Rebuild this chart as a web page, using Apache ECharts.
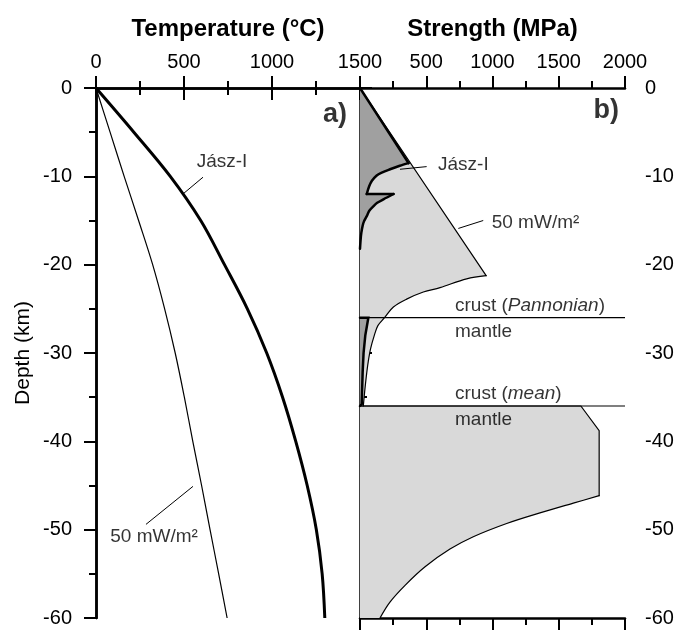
<!DOCTYPE html>
<html>
<head>
<meta charset="utf-8">
<script src="https://cdn.jsdelivr.net/npm/echarts@6/dist/echarts.min.js"></script>
<style>
	html, body { margin: 0; background: #fff; }
	#main { width: 678px; height: 630px; }
</style>
</head>
<body>
<div id="main"></div>
<script>
	// depth (km) for the geotherms
	var depths = [0, -5, -10, -15, -20, -25, -30, -35, -40, -45, -50, -55, -60];
	// temperature (°C)
	var tempJasz = [0, 215, 422, 595, 730, 860, 970, 1060, 1135, 1200, 1252, 1285, 1300];
	var temp50 = [0, 80, 160, 242, 322, 390, 450, 502, 550, 600, 648, 697, 745];

	// strength envelopes [MPa, depth km]
	var brittle50 = [[0, 0], [952, -21.25]];
	var creep50 = [[952, -21.25], [805, -21.6], [604, -22.6], [478, -23.1], [352, -23.9], [252, -24.8],
		[185, -26.0], [135, -26.9], [108, -28.0], [80, -29.5], [62, -31], [48, -32.6], [35, -34.4], [25, -36]];
	var mantleTop = [[0, -36], [1667, -36], [1805, -38.8], [1805, -46.15]];
	var mantleCreep = [[1805, -46.15], [1610, -47.0], [1358, -48.1], [1107, -49.3], [855, -50.8], [679, -52.2],
		[491, -54.2], [340, -56.3], [226, -58.2], [151, -60]];
	var jaszBrittle = [[0, 0], [366, -8.5]];
	var jaszUpper = [[366, -8.5], [300, -8.8], [227, -9.2], [160, -9.6], [126, -9.9], [90, -10.5],
		[70, -11.1], [51, -12.0]];
	var jaszNotch = [[51, -12.0], [253, -12.0]];
	var jaszLower = [[253, -12.0], [177, -12.6], [130, -13.0], [101, -13.4], [70, -13.9], [51, -14.5],
		[30, -15.1], [20, -15.6], [10, -16.4], [5, -17.1], [0, -18.2]];
	var jaszMantle = [[0, -26], [63, -26], [40, -28], [27, -30], [20, -32.2], [13, -35.8], [0, -36]];

	var mohoPannonian = -26;
	var mohoMean = -36;

	var strengthTicks = [500, 1000, 1500, 2000];

	var myChart = echarts.init(document.getElementById('main'));
	var font = "'Liberation Sans', Arial, sans-serif";

	function pairs(xs) {
		return xs.map(function (v, i) { return [v, depths[i]]; });
	}

	// smooth curve through the points (geotherms)
	function curve(points, w) {
		return {
			type: 'custom', xAxisIndex: 0, yAxisIndex: 0, silent: true,
			data: [[0, 0]],
			renderItem: function (params, api) {
				return {
					type: 'polyline',
					shape: { points: points.map(function (q) { return api.coord(q); }), smooth: 0.35 },
					style: { fill: null, stroke: '#000', lineWidth: w }
				};
			}
		};
	}

	// filled area: outline parts are joined into the polygon, each part may be smoothed
	function area(parts, fill, lw, smooth) {
		return {
			type: 'custom', xAxisIndex: 1, yAxisIndex: 2, silent: true,
			data: [[0, 0]],
			renderItem: function (params, api) {
				var all = [];
				var kids = [];
				parts.forEach(function (p, k) {
					var pts = p.map(function (q) { return api.coord(q); });
					all = all.concat(pts);
					if (pts.length > 1) {
						kids.push({
							type: 'polyline', z2: 2,
							shape: { points: pts, smooth: smooth[k] || 0 },
							style: { fill: null, stroke: '#000', lineWidth: lw, lineJoin: 'miter', lineCap: 'round' }
						});
					}
				});
				kids.unshift({
					type: 'polygon', z2: 1,
					shape: { points: all, smooth: 0 },
					style: { fill: fill, stroke: null }
				});
				return { type: 'group', children: kids };
			}
		};
	}

	function line(data, w, xi, yi) {
		return {
			type: 'line', xAxisIndex: xi, yAxisIndex: yi, data: data, symbol: 'none', silent: true,
			lineStyle: { color: '#000', width: w }
		};
	}

	// annotations: text + anchor in data units
	function texts(items, xi, yi) {
		return {
			type: 'scatter', xAxisIndex: xi, yAxisIndex: yi, symbolSize: 0, silent: true,
			data: items.map(function (t) {
				return {
					value: t.at, name: t.text,
					label: {
						show: true, position: [0, 0], formatter: t.text,
						align: t.align || 'left', verticalAlign: 'middle',
						fontSize: t.size || 19, fontWeight: t.bold ? 'bold' : 'normal',
						fontFamily: font, color: '#000',
						rich: {
							n: { fontSize: 19, fontFamily: font, color: '#000' },
							i: { fontSize: 19, fontFamily: font, color: '#000', fontStyle: 'italic' }
						}
					}
				};
			})
		};
	}

	var axisLine = { lineStyle: { color: '#000', width: 2.5 } };
	var tick = { length: 12, lineStyle: { color: '#000', width: 2 } };
	var minor = { show: true, splitNumber: 2, length: 7, lineStyle: { color: '#000', width: 2 } };
	var lbl = { fontSize: 20, color: '#000', fontFamily: font, formatter: function (v) { return String(v); } };
	var titleStyle = { fontSize: 24, fontWeight: 'bold', color: '#000', fontFamily: font };

	option = {
		animation: false,
		grid: [
			{ left: 96, top: 88, width: 264, height: 530 },
			{ left: 360, top: 88, width: 265, height: 530 }
		],
		xAxis: [
			{
				gridIndex: 0, type: 'value', position: 'top', min: 0, max: 1500, interval: 500,
				name: 'Temperature (°C)', nameLocation: 'middle', nameGap: 47, nameTextStyle: titleStyle,
				axisLine: axisLine, axisTick: tick, minorTick: minor, splitLine: { show: false },
				axisLabel: Object.assign({}, lbl, { margin: 16 })
			},
			{
				gridIndex: 1, type: 'value', position: 'top', min: 0, max: 2000, interval: 500,
				name: 'Strength (MPa)', nameLocation: 'middle', nameGap: 47, nameTextStyle: titleStyle,
				axisLine: axisLine, axisTick: tick, minorTick: minor, splitLine: { show: false },
				axisLabel: Object.assign({}, lbl, {
					margin: 16,
					formatter: function (v) { return strengthTicks.indexOf(v) >= 0 ? String(v) : ''; }
				})
			},
			{
				gridIndex: 0, type: 'value', position: 'bottom', min: 0, max: 1500, interval: 500,
				axisLine: axisLine, axisTick: tick, minorTick: minor, splitLine: { show: false },
				axisLabel: { show: false }
			},
			{
				gridIndex: 1, type: 'value', position: 'bottom', min: 0, max: 2000, interval: 500,
				axisLine: axisLine, axisTick: tick, minorTick: minor, splitLine: { show: false },
				axisLabel: { show: false }
			}
		],
		yAxis: [
			{
				gridIndex: 0, type: 'value', position: 'left', min: -60, max: 0, interval: 10,
				name: 'Depth (km)', nameLocation: 'middle', nameGap: 62,
				nameTextStyle: { fontSize: 21, color: '#000', fontFamily: font },
				axisLine: axisLine, axisTick: tick, minorTick: minor, splitLine: { show: false },
				axisLabel: Object.assign({}, lbl, { margin: 24 })
			},
			{
				gridIndex: 0, type: 'value', position: 'right', min: -60, max: 0, interval: 10,
				axisLine: axisLine, axisTick: Object.assign({ inside: true }, tick),
				minorTick: minor, splitLine: { show: false }, axisLabel: { show: false }
			},
			{
				gridIndex: 1, type: 'value', position: 'right', min: -60, max: 0, interval: 10,
				axisLine: axisLine, axisTick: tick, minorTick: minor, splitLine: { show: false },
				axisLabel: Object.assign({}, lbl, { margin: 20 })
			}
		],
		series: [
			// a) geotherms
			curve(pairs(tempJasz), 3),
			curve(pairs(temp50), 1.2),
			line([[494, -12.0], [608, -10.1]], 1, 0, 0),
			line([[284, -49.4], [551, -45.1]], 1, 0, 0),
			texts([
				{ text: 'Jász-I', at: [716, -8.4], align: 'center' },
				{ text: '50 mW/m²', at: [330, -50.8], align: 'center' },
				{ text: 'a)', at: [1426, -3.0], align: 'right', size: 27, bold: true }
			], 0, 0),

			// b) strength envelopes
			area([brittle50, creep50, [[0, -36]]], '#d9d9d9', 1.2, [0, 0.35, 0]),
			area([mantleTop, mantleCreep, [[0, -60]]], '#d9d9d9', 1.2, [0, 0.35, 0]),
			area([jaszBrittle, jaszUpper, jaszNotch, jaszLower], '#a0a0a0', 2.5, [0, 0.3, 0, 0.3]),
			area([jaszMantle], '#a0a0a0', 2.5, [0]),
			line([[0, mohoPannonian], [2000, mohoPannonian]], 1.2, 1, 2),
			line([[0, mohoMean], [2000, mohoMean]], 1.2, 1, 2),
			line([[302, -9.2], [503, -8.9]], 1, 1, 2),
			line([[742, -15.9], [930, -15.0]], 1, 1, 2),
			texts([
				{ text: 'Jász-I', at: [589, -8.7] },
				{ text: '50 mW/m²', at: [994, -15.3] },
				{ text: '{n|crust (}{i|Pannonian}{n|)}', at: [717, -24.6] },
				{ text: 'mantle', at: [717, -27.6] },
				{ text: '{n|crust (}{i|mean}{n|)}', at: [717, -34.6] },
				{ text: 'mantle', at: [717, -37.6] },
				{ text: 'b)', at: [1955, -2.6], align: 'right', size: 27, bold: true }
			], 1, 2)
		]
	};

	myChart.setOption(option);
</script>
</body>
</html>
